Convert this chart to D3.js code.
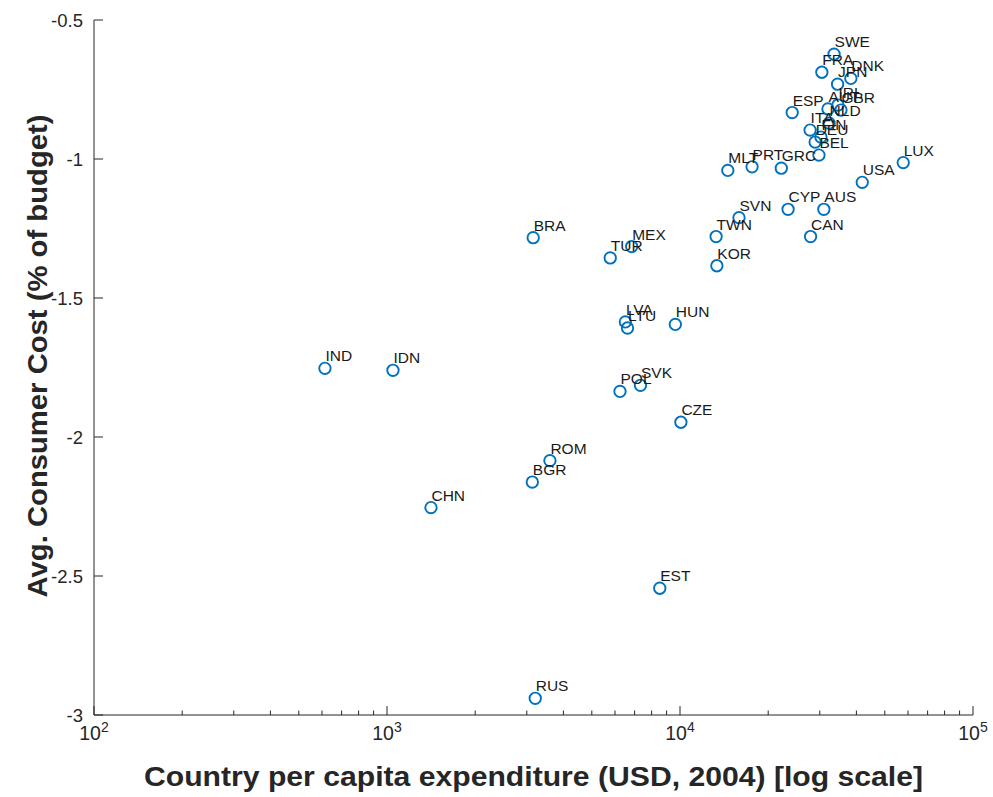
<!DOCTYPE html>
<html>
<head>
<meta charset="utf-8">
<script src="https://cdn.jsdelivr.net/npm/d3@7"></script>
<style>
  html, body { margin: 0; padding: 0; background: #fff; }
  svg { display: block; font-family: "Liberation Sans", Arial, Helvetica, sans-serif; }
</style>
</head>
<body>
<script>
// ---- data ----
const countries = ["SWE","FRA","DNK","JPN","ESP","AUT","IRL","GBR","NLD","ITA","DEU","FIN","BEL",
  "MLT","PRT","GRC","LUX","USA","CYP","AUS","SVN","TWN","CAN","KOR","BRA","MEX","TUR",
  "LVA","LTU","HUN","POL","SVK","CZE","IND","IDN","ROM","BGR","CHN","EST","RUS"];
const expenditure = [33560,30490,38290,34500,24150,31990,34600,35430,32270,27800,28920,30270,29800,
  14560,17620,22170,57800,41880,23380,30970,15900,13280,27900,13360,3155,6840,5780,
  6510,6620,9640,6240,7330,10070,614,1048,3598,3133,1413,8530,3206];
const avgCost = [-0.623,-0.688,-0.710,-0.731,-0.833,-0.820,-0.806,-0.824,-0.871,-0.896,-0.939,-0.921,-0.986,
  -1.041,-1.028,-1.033,-1.013,-1.084,-1.181,-1.181,-1.211,-1.279,-1.279,-1.384,-1.283,-1.315,-1.356,
  -1.586,-1.608,-1.595,-1.836,-1.814,-1.947,-1.753,-1.760,-2.085,-2.162,-2.254,-2.544,-2.940];
const xTickExps = [2,3,4,5];
const yTicks = [-3,-2.5,-2,-1.5,-1,-0.5];
const yTickLabels = ["-3","-2.5","-2","-1.5","-1","-0.5"];
const xLabel = "Country per capita expenditure (USD, 2004) [log scale]";
const yLabel = "Avg. Consumer Cost (% of budget)";

// ---- layout ----
const W = 993, H = 797;
const L = 94, R = 973, T = 20, B = 715;
const axisColor = "#262626";
const markColor = "#0072BD";

const svg = d3.select("body").append("svg").attr("width", W).attr("height", H);

const x = d3.scaleLog().domain([100, 100000]).range([L, R]);
const y = d3.scaleLinear().domain([-3, -0.5]).range([B, T]);

// minor ticks
const minor = [];
for (let e = 2; e < 5; e++) for (let m = 2; m <= 9; m++) minor.push(m * Math.pow(10, e));

const gx = svg.append("g").attr("transform", `translate(0,${B})`);
gx.append("line").attr("x1", L).attr("x2", R).attr("stroke", axisColor).attr("stroke-width", 1);
gx.selectAll("line.minor").data(minor).join("line").attr("class","minor")
  .attr("x1", d => x(d)).attr("x2", d => x(d)).attr("y1", 0).attr("y2", -4.5)
  .attr("stroke", axisColor).attr("stroke-width", 1);
gx.selectAll("line.major").data(xTickExps).join("line").attr("class","major")
  .attr("x1", d => x(Math.pow(10, d))).attr("x2", d => x(Math.pow(10, d))).attr("y1", 0).attr("y2", -9)
  .attr("stroke", axisColor).attr("stroke-width", 1);
const xt = gx.selectAll("text.tick").data(xTickExps).join("text").attr("class","tick")
  .attr("x", d => x(Math.pow(10, d))).attr("y", 25)
  .attr("text-anchor", "middle").attr("font-size", 19.5).attr("fill", axisColor);
xt.append("tspan").text("10");
xt.append("tspan").attr("dy", -8).attr("font-size", 14).text(d => d);

const gy = svg.append("g");
gy.append("line").attr("x1", L).attr("x2", L).attr("y1", T).attr("y2", B)
  .attr("stroke", axisColor).attr("stroke-width", 1);
gy.selectAll("line.tick").data(yTicks).join("line").attr("class","tick")
  .attr("x1", L).attr("x2", L + 9).attr("y1", d => y(d)).attr("y2", d => y(d))
  .attr("stroke", axisColor).attr("stroke-width", 1);
gy.selectAll("text.tick").data(yTicks).join("text").attr("class","tick")
  .attr("x", L - 11).attr("y", d => y(d) + 6.5)
  .attr("text-anchor", "end").attr("font-size", 18.5).attr("fill", axisColor)
  .text((d, i) => yTickLabels[i]);

// axis labels
svg.append("text").attr("x", (L + R) / 2).attr("y", 786)
  .attr("text-anchor", "middle").attr("font-size", 27).attr("font-weight", "bold")
  .attr("textLength", 779).attr("lengthAdjust", "spacingAndGlyphs")
  .attr("fill", axisColor).text(xLabel);
svg.append("text").attr("transform", `translate(47,356) rotate(-90)`)
  .attr("text-anchor", "middle").attr("font-size", 27).attr("font-weight", "bold")
  .attr("textLength", 483).attr("lengthAdjust", "spacingAndGlyphs")
  .attr("fill", axisColor).text(yLabel);

// points
const pts = countries.map((c, i) => ({ c, v: expenditure[i], a: avgCost[i] }));
svg.append("g").selectAll("circle").data(pts).join("circle")
  .attr("cx", d => x(d.v)).attr("cy", d => y(d.a)).attr("r", 5.7)
  .attr("fill", "none").attr("stroke", markColor).attr("stroke-width", 1.9);
svg.append("g").selectAll("text").data(pts).join("text")
  .attr("x", d => x(d.v) + 0.5).attr("y", d => y(d.a) - 7)
  .attr("font-size", 15.5).attr("fill", "#1a1a1a").text(d => d.c);
</script>
</body>
</html>
